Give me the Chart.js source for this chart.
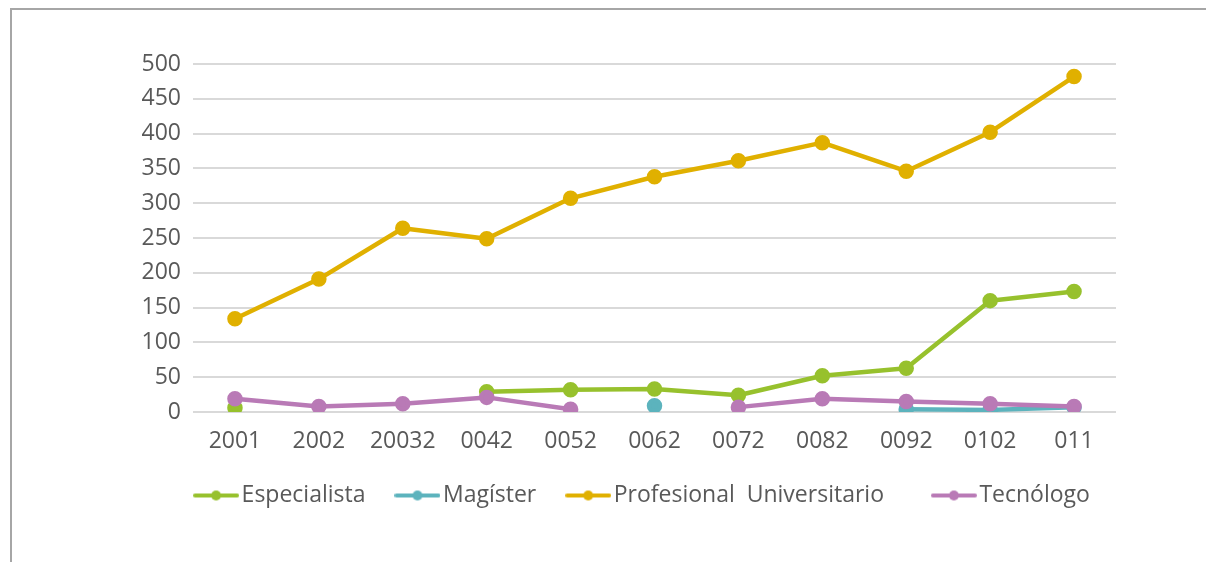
<!DOCTYPE html>
<html>
<head>
<meta charset="utf-8">
<script src="https://cdn.jsdelivr.net/npm/chart.js@4/dist/chart.umd.min.js"></script>
<style>
  html, body { margin: 0; padding: 0; background: #fff; }
  #frame {
    position: absolute; left: 10px; top: 8px; width: 1196px; height: 554px;
    border-left: 2px solid #a6a6a6; border-top: 2px solid #a6a6a6;
    box-sizing: border-box;
  }
  #chart { position: absolute; left: 0; top: 0; }
</style>
</head>
<body>
<div id="frame"></div>
<canvas id="chart" width="1206" height="562"></canvas>
<script>
/* ===== DATA ===== */
const years = ["2001", "2002", "20032", "0042", "0052", "0062", "0072", "0082", "0092", "0102", "011"];
const especialista = [6, null, null, 29, 32, 33, 24, 52, 63, 160, 173];
const magister = [null, null, null, null, null, 9, null, null, 4, 3, 7];
const profesional = [134, 191, 264, 249, 307, 338, 361, 387, 346, 402, 482];
const tecnologo = [19, 8, 12, 21, 4, null, 7, 19, 15, 12, 8];
const yTicksMax = 500;
const yTicksStep = 50;

const COLORS = {
  especialista: "#97c12d",
  magister: "#5cb3bd",
  profesional: "#e0b000",
  tecnologo: "#b97ab6",
};

/* ===== HELPERS ===== */
// legend marker: short line with a dot in the middle
function legendMarker(color) {
  const c = document.createElement("canvas");
  c.width = 46;
  c.height = 12;
  const g = c.getContext("2d");
  g.strokeStyle = color;
  g.lineWidth = 4;
  g.lineCap = "round";
  g.beginPath();
  g.moveTo(2, 6);
  g.lineTo(44, 6);
  g.stroke();
  g.fillStyle = color;
  g.beginPath();
  g.arc(23, 6, 5, 0, Math.PI * 2);
  g.fill();
  return c;
}

function makeSeries(label, data, color, order) {
  return {
    label,
    data,
    order,
    borderColor: color,
    backgroundColor: color,
    pointBackgroundColor: color,
    pointBorderColor: color,
    pointRadius: 5.5,
    pointHoverRadius: 5.5,
    borderWidth: 4.5,
    borderCapStyle: "round",
    borderJoinStyle: "round",
    tension: 0,
    spanGaps: false,
    pointStyle: "circle",
    marker: legendMarker(color),
  };
}

// the legend in the original is centred under the plot, not the canvas,
// and sits a bit closer to the axis labels
const LEGEND_SHIFT_X = 88;
const LEGEND_SHIFT_Y = -16;
const shiftLegend = {
  id: "shiftLegend",
  afterLayout(chart) {
    const lg = chart.legend;
    lg.left += LEGEND_SHIFT_X;
    lg.right += LEGEND_SHIFT_X;
    lg.top += LEGEND_SHIFT_Y;
    lg.bottom += LEGEND_SHIFT_Y;
  },
};

/* ===== CHART ===== */
const FONT = "'Open Sans', 'Noto Sans', sans-serif";
const ctx = document.getElementById("chart").getContext("2d");

new Chart(ctx, {
  type: "line",
  data: {
    labels: years,
    datasets: [
      makeSeries("Especialista", especialista, COLORS.especialista, 4),
      makeSeries("Magíster", magister, COLORS.magister, 3),
      // trailing spaces keep the wider gap seen before the last legend item
      makeSeries("Profesional  Universitario   ", profesional, COLORS.profesional, 2),
      makeSeries("Tecnólogo", tecnologo, COLORS.tecnologo, 1),
    ],
  },
  plugins: [shiftLegend],
  options: {
    responsive: false,
    animation: false,
    layout: { padding: { left: 0, right: 90, top: 64, bottom: 29 } },
    plugins: {
      tooltip: { enabled: false },
      legend: {
        position: "bottom",
        labels: {
          font: { family: FONT, size: 23 },
          color: "#595959",
          usePointStyle: true,
          pointStyleWidth: 28,
          padding: 38,
          generateLabels: (chart) =>
            chart.data.datasets.map((ds, i) => ({
              text: ds.label,
              fontColor: "#595959",
              pointStyle: ds.marker,
              datasetIndex: i,
              lineWidth: 0,
              strokeStyle: ds.borderColor,
              fillStyle: ds.borderColor,
            })),
        },
      },
    },
    scales: {
      x: {
        offset: true,
        grid: { display: false },
        border: { display: false },
        ticks: {
          font: { family: FONT, size: 23 },
          color: "#595959",
          padding: 8,
          maxRotation: 0,
          autoSkip: false,
        },
        afterFit: (s) => { s.height = 50; },
      },
      y: {
        min: 0,
        max: yTicksMax,
        border: { display: false },
        grid: { color: "#d9d9d9", lineWidth: 2, drawTicks: false },
        ticks: {
          stepSize: yTicksStep,
          autoSkip: false,
          font: { family: FONT, size: 23 },
          color: "#595959",
          padding: 12,
        },
        afterFit: (s) => { s.width = 193; },
      },
    },
  },
});
</script>
</body>
</html>
